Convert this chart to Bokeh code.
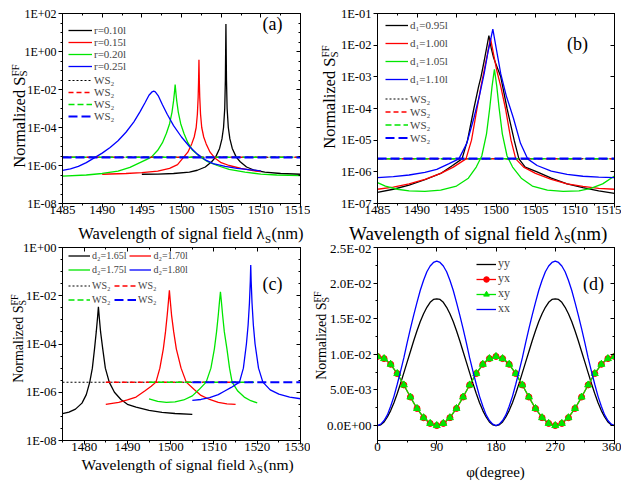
from math import pi
import numpy as np
from bokeh.plotting import figure
from bokeh.models import (Range1d, LogAxis, LinearAxis, FixedTicker, CustomJSTickFormatter,
                          Label, Legend, LegendItem, GridBox)
from bokeh.embed import file_html
from bokeh.resources import INLINE

FONT = "Liberation Serif, Times New Roman, serif"
BLACK, RED, GREEN, BLUE = "#000000", "#ff0000", "#00e600", "#0000ff"

# ---------------- data; y of panels a-c given as log10 ----------------
# (a) radius sweep
a_x_r010 = [1495, 1497, 1499, 1501, 1502, 1503, 1503.8, 1504.3, 1504.8, 1505.1, 1505.3, 1505.45, 1505.53,
            1505.6, 1505.67, 1505.75, 1505.9, 1506.1, 1506.4, 1506.9, 1507.4, 1508.2, 1509.2, 1510.5, 1512.5, 1515]
a_lg_r010 = [-6.46, -6.45, -6.42, -6.35, -6.25, -6.08, -5.8, -5.56, -5.1, -4.6, -4.0, -3.0, -1.5,
             1.45, -1.5, -3.0, -4.0, -4.6, -5.1, -5.56, -5.8, -6.08, -6.25, -6.35, -6.42, -6.46]
a_x_r015 = [1490, 1493, 1495, 1497, 1498.5, 1499.5, 1500.2, 1500.8, 1501.3, 1501.6, 1501.85, 1502.0, 1502.1,
            1502.15, 1502.2, 1502.25, 1502.3, 1502.4, 1502.55, 1502.8, 1503.1, 1503.6, 1504.2, 1505, 1506,
            1507.5, 1509, 1510]
a_lg_r015 = [-6.46, -6.42, -6.38, -6.3, -6.15, -5.95, -5.6, -5.3, -4.85, -4.5, -4.0, -3.3, -2.4,
             -1.6, -0.44, -1.6, -2.4, -3.3, -4.0, -4.5, -4.85, -5.3, -5.6, -5.85, -6.0,
             -6.15, -6.27, -6.32]
a_x_r020 = [1485, 1488, 1490, 1492, 1493.5, 1494.5, 1495.5, 1496.2, 1497, 1497.6, 1498.1, 1498.5, 1498.8,
            1499.0, 1499.1, 1499.2, 1499.3, 1499.4, 1499.6, 1499.9, 1500.3, 1500.8, 1501.4, 1502.4, 1503.3,
            1504.5, 1506, 1508, 1510, 1512, 1515]
a_lg_r020 = [-6.56, -6.5, -6.42, -6.3, -6.1, -5.9, -5.7, -5.56, -5.2, -4.8, -4.3, -3.8, -3.2,
             -2.6, -2.2, -1.74, -2.2, -2.6, -3.2, -3.8, -4.3, -4.8, -5.2, -5.56, -5.8,
             -6.0, -6.2, -6.35, -6.45, -6.5, -6.53]
a_x_r025 = [1485, 1486, 1487, 1488, 1489, 1490, 1491, 1492, 1493, 1494, 1494.8, 1495.4, 1495.9, 1496.3,
            1496.5, 1496.7, 1497.1, 1497.6, 1498.2, 1499, 1500, 1501, 1502, 1503, 1504, 1505.5, 1507,
            1508.5, 1510]
a_lg_r025 = [-6.26, -6.18, -6.05, -5.85, -5.6, -5.35, -5.05, -4.7, -4.25, -3.7, -3.15, -2.7, -2.3, -2.12,
             -2.09, -2.12, -2.35, -2.8, -3.3, -3.9, -4.5, -5.0, -5.4, -5.7, -5.9, -6.05, -6.15,
             -6.22, -6.28]
a_labels = ["r=0.10l", "r=0.15l", "r=0.20l", "r=0.25l"]
a_ws2 = 2.7e-6
a_ws2_x = [1485, 1515]

# (b) d1 sweep
b_x_d095 = [1485, 1487, 1489, 1491, 1493, 1494.5, 1495.7, 1496.4, 1497.2, 1497.8, 1498.1, 1498.5, 1498.8,
            1499.1, 1499.4, 1499.7, 1500.0, 1500.6, 1501.4, 1502.3, 1502.9, 1503.7, 1505.2, 1507, 1509,
            1511, 1513, 1515]
b_lg_d095 = [-6.65, -6.55, -6.42, -6.25, -6.05, -5.8, -5.59, -5.0, -4.0, -3.3, -3.0, -2.5, -2.1,
             -1.7, -2.1, -2.4, -2.6, -3.0, -4.0, -5.0, -5.59, -5.85, -6.0, -6.2, -6.38,
             -6.5, -6.6, -6.68]
b_x_d100 = [1485, 1487, 1489, 1491, 1493, 1494.6, 1496.2, 1496.9, 1497.6, 1498.1, 1498.5, 1498.9, 1499.3,
            1499.7, 1500.1, 1500.6, 1501.2, 1501.9, 1502.5, 1503.5, 1505, 1507, 1509, 1511, 1513, 1515]
b_lg_d100 = [-6.55, -6.48, -6.38, -6.24, -6.05, -5.85, -5.59, -5.0, -4.0, -3.3, -2.8, -2.3, -1.78,
             -2.3, -2.8, -3.3, -4.0, -5.0, -5.59, -5.85, -6.05, -6.24, -6.38, -6.46, -6.52, -6.55]
b_x_d105 = [1485, 1486, 1487.5, 1489, 1491, 1493, 1495, 1496.5, 1497.5, 1498.2, 1498.8, 1499.2, 1499.5,
            1499.8, 1500.1, 1500.4, 1500.8, 1501.4, 1502.1, 1503.2, 1504.6, 1506.5, 1508.5, 1510.5, 1512,
            1513.5, 1515]
b_lg_d105 = [-6.34, -6.45, -6.55, -6.6, -6.62, -6.58, -6.45, -6.2, -5.85, -5.5, -4.8, -4.0, -3.3,
             -2.76, -3.3, -4.0, -4.8, -5.5, -5.85, -6.2, -6.45, -6.58, -6.62, -6.6, -6.52,
             -6.38, -6.13]
b_x_d110 = [1485, 1487, 1489, 1491, 1492.5, 1494, 1495.3, 1496.3, 1497.2, 1497.9, 1498.5, 1499.0, 1499.6,
            1500.1, 1500.6, 1501.3, 1502.2, 1503.1, 1504.0, 1505.2, 1507, 1509, 1511, 1513, 1515]
b_lg_d110 = [-6.18, -6.15, -6.1, -6.02, -5.92, -5.75, -5.59, -5.1, -4.3, -3.6, -2.9, -2.2, -1.49,
             -2.2, -2.9, -3.6, -4.3, -5.1, -5.59, -5.8, -5.98, -6.08, -6.14, -6.17, -6.18]
b_labels = ["d\u2081=0.95l", "d\u2081=1.00l", "d\u2081=1.05l", "d\u2081=1.10l"]
b_ws2 = 2.6e-6
b_ws2_x = [1485, 1515]

# (c) d2 sweep
c_x_d165 = [1475, 1476.5, 1478, 1479.5, 1480.5, 1481.3, 1481.9, 1482.4, 1482.8, 1483.1, 1483.3, 1483.5,
            1483.8, 1484.3, 1484.9, 1485.8, 1487, 1488.5, 1490, 1492, 1495, 1498, 1501, 1505]
c_lg_d165 = [-6.89, -6.82, -6.7, -6.45, -6.1, -5.58, -5.0, -4.2, -3.5, -2.9, -2.46, -2.9,
             -3.5, -4.2, -5.0, -5.58, -6.0, -6.3, -6.5, -6.62, -6.75, -6.83, -6.88, -6.92]
c_x_d170 = [1485, 1488, 1490, 1492, 1494, 1495.5, 1496.6, 1497.5, 1498.3, 1498.8, 1499.2, 1499.5, 1499.7,
            1499.9, 1500.2, 1500.7, 1501.3, 1502.4, 1503.6, 1505.5, 1507, 1509, 1511, 1513, 1515]
c_lg_d170 = [-6.5, -6.42, -6.32, -6.2, -5.95, -5.75, -5.58, -5.0, -4.2, -3.5, -2.8, -2.2, -1.77,
             -2.2, -2.8, -3.5, -4.2, -5.0, -5.58, -5.9, -6.13, -6.3, -6.42, -6.48, -6.5]
c_x_d175 = [1495, 1497, 1499, 1501, 1503, 1505, 1506.5, 1508.2, 1509.3, 1510.1, 1510.6, 1511.0, 1511.3,
            1511.5, 1511.7, 1512.0, 1512.4, 1513.0, 1513.6, 1514.2, 1515.5, 1517, 1518.5, 1520]
c_lg_d175 = [-6.27, -6.38, -6.42, -6.4, -6.32, -6.15, -5.9, -5.58, -5.0, -4.2, -3.5, -2.8, -2.2,
             -1.84, -2.2, -2.8, -3.5, -4.2, -5.0, -5.58, -5.95, -6.2, -6.35, -6.44]
c_x_d180 = [1505, 1507, 1509, 1511, 1512.5, 1514, 1515.9, 1516.8, 1517.5, 1517.9, 1518.2, 1518.4, 1518.5,
            1518.6, 1518.8, 1519.1, 1519.5, 1520.3, 1521.3, 1523, 1525, 1527.5, 1530]
c_lg_d180 = [-6.34, -6.3, -6.22, -6.1, -5.95, -5.8, -5.58, -5.0, -4.0, -3.2, -2.3, -1.4, -0.73,
             -1.4, -2.3, -3.2, -4.0, -5.0, -5.58, -5.9, -6.08, -6.2, -6.27]
c_labels = ["d\u2082=1.65l", "d\u2082=1.70l", "d\u2082=1.75l", "d\u2082=1.80l"]
c_ws2 = 2.6e-6
c_ws2_x = [[1475, 1505], [1485, 1515], [1495, 1520], [1505, 1530]]

# (d) polarization angle
d_phi_line = [0, 5, 10, 15, 20, 25, 30, 35, 40, 45, 50, 55, 60, 65, 70, 75, 80, 85, 90,
              95, 100, 105, 110, 115, 120, 125, 130, 135, 140, 145, 150, 155, 160, 165, 170, 175, 180,
              185, 190, 195, 200, 205, 210, 215, 220, 225, 230, 235, 240, 245, 250, 255, 260, 265, 270,
              275, 280, 285, 290, 295, 300, 305, 310, 315, 320, 325, 330, 335, 340, 345, 350, 355, 360]
d_yy = [0,
        0.0001, 0.0005, 0.0012, 0.0021, 0.0032, 0.0045, 0.0059, 0.0074, 0.0089, 0.0104, 0.0119, 0.0133,
        0.0146, 0.0157, 0.0166, 0.0173, 0.0177, 0.0178,
        0.0177, 0.0173, 0.0166, 0.0157, 0.0146, 0.0133, 0.0119, 0.0104, 0.0089, 0.0074, 0.0059, 0.0045,
        0.0032, 0.0021, 0.0012, 0.0005, 0.0001, 0,
        0.0001, 0.0005, 0.0012, 0.0021, 0.0032, 0.0045, 0.0059, 0.0074, 0.0089, 0.0104, 0.0119, 0.0133,
        0.0146, 0.0157, 0.0166, 0.0173, 0.0177, 0.0178,
        0.0177, 0.0173, 0.0166, 0.0157, 0.0146, 0.0133, 0.0119, 0.0104, 0.0089, 0.0074, 0.0059, 0.0045,
        0.0032, 0.0021, 0.0012, 0.0005, 0.0001, 0]
d_xx = [0,
        0.0002, 0.0007, 0.0015, 0.0027, 0.0041, 0.0058, 0.0076, 0.0095, 0.0116, 0.0136, 0.0155, 0.0173,
        0.0190, 0.0204, 0.0216, 0.0224, 0.0229, 0.0231,
        0.0229, 0.0224, 0.0216, 0.0204, 0.0190, 0.0173, 0.0155, 0.0136, 0.0116, 0.0095, 0.0076, 0.0058,
        0.0041, 0.0027, 0.0015, 0.0007, 0.0002, 0,
        0.0002, 0.0007, 0.0015, 0.0027, 0.0041, 0.0058, 0.0076, 0.0095, 0.0116, 0.0136, 0.0155, 0.0173,
        0.0190, 0.0204, 0.0216, 0.0224, 0.0229, 0.0231,
        0.0229, 0.0224, 0.0216, 0.0204, 0.0190, 0.0173, 0.0155, 0.0136, 0.0116, 0.0095, 0.0076, 0.0058,
        0.0041, 0.0027, 0.0015, 0.0007, 0.0002, 0]
d_phi_mark = [0, 10, 20, 30, 40, 50, 60, 70, 80, 90, 100, 110, 120, 130, 140, 150, 160, 170, 180,
              190, 200, 210, 220, 230, 240, 250, 260, 270, 280, 290, 300, 310, 320, 330, 340, 350, 360]
d_yx = [0.0097, 0.0094, 0.0086, 0.0073, 0.0057, 0.0040, 0.0024, 0.0011, 0.0003, 0.0000,
        0.0003, 0.0011, 0.0024, 0.0040, 0.0057, 0.0073, 0.0086, 0.0094, 0.0097,
        0.0094, 0.0086, 0.0073, 0.0057, 0.0040, 0.0024, 0.0011, 0.0003, 0.0000,
        0.0003, 0.0011, 0.0024, 0.0040, 0.0057, 0.0073, 0.0086, 0.0094, 0.0097]
d_xy = [0.0097, 0.0094, 0.0086, 0.0073, 0.0057, 0.0040, 0.0024, 0.0011, 0.0003, 0.0000,
        0.0003, 0.0011, 0.0024, 0.0040, 0.0057, 0.0073, 0.0086, 0.0094, 0.0097,
        0.0094, 0.0086, 0.0073, 0.0057, 0.0040, 0.0024, 0.0011, 0.0003, 0.0000,
        0.0003, 0.0011, 0.0024, 0.0040, 0.0057, 0.0073, 0.0086, 0.0094, 0.0097]
d_labels = ["yy", "yx", "xy", "xx"]

WS2 = "WS\u2082"

# ---------------- helpers ----------------
LOGFMT = """
const e = Math.round(Math.log10(tick));
const a = Math.abs(e);
return '1E' + (e < 0 ? '-' : '+') + (a < 10 ? '0' : '') + a;
"""
EXPFMT = """
if (Math.abs(tick) < 1e-12) return '0.0E+00';
const e = Math.floor(Math.log10(Math.abs(tick)) + 1e-9);
const m = tick / Math.pow(10, e);
const a = Math.abs(e);
return m.toFixed(1) + 'E' + (e < 0 ? '-' : '+') + (a < 10 ? '0' : '') + a;
"""
PLAIN = "return String(tick);"
EMPTY = "return '';"


def base_fig(w, h, xr, yr, ylog, bl, br, bt, bb):
    p = figure(width=w, height=h, x_range=Range1d(*xr), y_range=Range1d(*yr),
               y_axis_type="log" if ylog else "linear", output_backend="svg",
               toolbar_location=None, min_border_left=bl, min_border_right=br,
               min_border_top=bt, min_border_bottom=bb)
    p.xgrid.visible = False
    p.ygrid.visible = False
    p.outline_line_color = "black"
    p.background_fill_color = None
    p.border_fill_color = None
    return p


def cfg_axis(ax, ticks, minor, code, size, out, inn, standoff):
    ax.ticker = FixedTicker(ticks=ticks, minor_ticks=minor)
    ax.formatter = CustomJSTickFormatter(code=code)
    ax.axis_label = None
    ax.axis_line_color = "black"
    ax.axis_line_width = 1
    ax.major_tick_line_color = "black"
    ax.minor_tick_line_color = "black"
    ax.major_tick_out = out
    ax.major_tick_in = inn
    ax.minor_tick_out = int(round(out * 0.6))
    ax.minor_tick_in = int(round(inn * 0.6))
    ax.major_label_text_font = FONT
    ax.major_label_text_font_size = size
    ax.major_label_text_color = "black"
    ax.major_label_standoff = standoff


def frame_axes(p, ylog, xt, xm, yt, ym, ycode, xsize, ysize):
    cfg_axis(p.xaxis[0], xt, xm, PLAIN, xsize, 4, 0, -2)
    cfg_axis(p.yaxis[0], yt, ym, ycode, ysize, 4, 0, 2)
    top = LinearAxis()
    cfg_axis(top, xt, xm, EMPTY, "0px", 0, 4, 0)
    p.add_layout(top, "above")
    right = LogAxis() if ylog else LinearAxis()
    cfg_axis(right, yt, ym, EMPTY, "0px", 0, 4, 0)
    p.add_layout(right, "right")


def legend(p, items, vx, vy, size, row_h, glyph_w, standoff=2, orientation="vertical", spacing=0):
    lg = Legend(items=items, location=(vx, vy), orientation=orientation,
                label_text_font=FONT, label_text_font_size=size,
                label_height=row_h, glyph_height=row_h, glyph_width=glyph_w,
                label_standoff=standoff, spacing=spacing, padding=0, margin=0,
                border_line_alpha=0, background_fill_alpha=0)
    p.add_layout(lg)


def plab(p, text, x, y, size):
    p.add_layout(Label(x=x, y=y, x_units="screen", y_units="screen", text=text, text_font=FONT,
                       text_font_size=size, text_align="center", text_baseline="middle",
                       text_color="black"))


COLORS = [BLACK, RED, GREEN, BLUE]
DASHES = ["2 2", "5 3", "6 3", "9 4"]
DWIDTH = [1.0, 1.5, 1.5, 2.2]

lin_ticks_ab = [1485, 1490, 1495, 1500, 1505, 1510, 1515]
lin_minor_ab = [1487.5, 1492.5, 1497.5, 1502.5, 1507.5, 1512.5]

# ---------------- panel (a) ----------------
pa = base_fig(310, 240, (1485, 1515), (1e-8, 1e2), True, 62, 7, 13, 37)
frame_axes(pa, True, lin_ticks_ab, lin_minor_ab,
           [1e-8, 1e-6, 1e-4, 1e-2, 1, 1e2],
           [10 ** (k / 2) for k in range(-16, 5) if k % 4 != 0], LOGFMT, "13px", "12px")
a_sol, a_dash = [], []
for xs, lg, c in zip([a_x_r010, a_x_r015, a_x_r020, a_x_r025],
                     [a_lg_r010, a_lg_r015, a_lg_r020, a_lg_r025], COLORS):
    a_sol.append(pa.line(xs, np.power(10.0, lg), line_color=c, line_width=1.3))
for c, d, w in zip(COLORS, DASHES, DWIDTH):
    a_dash.append(pa.line(a_ws2_x, [a_ws2, a_ws2], line_color=c, line_dash=d, line_width=w))
legend(pa, [LegendItem(label=t, renderers=[r]) for t, r in zip(a_labels, a_sol)], 6, 131, "11px", 12, 24)
legend(pa, [LegendItem(label=WS2, renderers=[r]) for r in a_dash], 6, 81, "11px", 12, 24)
plab(pa, "(a)", 210, 180, "18px")

# ---------------- panel (b) ----------------
pb = base_fig(311, 240, (1485, 1515), (1e-7, 1e-1), True, 67, 7, 13, 37)
frame_axes(pb, True, lin_ticks_ab, lin_minor_ab,
           [1e-7, 1e-6, 1e-5, 1e-4, 1e-3, 1e-2, 1e-1], [], LOGFMT, "13px", "12.5px")
b_sol, b_dash = [], []
for xs, lg, c in zip([b_x_d095, b_x_d100, b_x_d105, b_x_d110],
                     [b_lg_d095, b_lg_d100, b_lg_d105, b_lg_d110], COLORS):
    b_sol.append(pb.line(xs, np.power(10.0, lg), line_color=c, line_width=1.3))
for c, d, w in zip(COLORS, DASHES, DWIDTH):
    b_dash.append(pb.line(b_ws2_x, [b_ws2, b_ws2], line_color=c, line_dash=d, line_width=w))
legend(pb, [LegendItem(label=t, renderers=[r]) for t, r in zip(b_labels, b_sol)], 8, 115, "11px", 18, 23)
legend(pb, [LegendItem(label=WS2, renderers=[r]) for r in b_dash], 8, 59, "11px", 13, 23)
plab(pb, "(b)", 200, 160, "18px")

# ---------------- panel (c) ----------------
pc = base_fig(310, 241, (1475, 1530), (1e-8, 1), True, 62, 10, 7, 41)
frame_axes(pc, True, [1480, 1490, 1500, 1510, 1520, 1530], [1475, 1485, 1495, 1505, 1515, 1525],
           [1e-8, 1e-6, 1e-4, 1e-2, 1],
           [10 ** (k / 2) for k in range(-16, 1) if k % 4 != 0], LOGFMT, "13px", "12.5px")
c_sol, c_dash = [], []
for xs, lg, c in zip([c_x_d165, c_x_d170, c_x_d175, c_x_d180],
                     [c_lg_d165, c_lg_d170, c_lg_d175, c_lg_d180], COLORS):
    c_sol.append(pc.line(xs, np.power(10.0, lg), line_color=c, line_width=1.3))
for xs, c, d, w in zip(c_ws2_x, COLORS, DASHES, DWIDTH):
    c_dash.append(pc.line(xs, [c_ws2, c_ws2], line_color=c, line_dash=d, line_width=w))
legend(pc, [LegendItem(label=c_labels[0], renderers=[c_sol[0]]),
            LegendItem(label=c_labels[1], renderers=[c_sol[1]])], 6, 178, "10px", 13, 22,
       orientation="horizontal", spacing=3)
legend(pc, [LegendItem(label=c_labels[2], renderers=[c_sol[2]]),
            LegendItem(label=c_labels[3], renderers=[c_sol[3]])], 6, 164, "10px", 13, 22,
       orientation="horizontal", spacing=3)
legend(pc, [LegendItem(label=WS2, renderers=[c_dash[0]]),
            LegendItem(label=WS2, renderers=[c_dash[1]])], 6, 148, "10px", 13, 22,
       orientation="horizontal", spacing=2)
legend(pc, [LegendItem(label=WS2, renderers=[c_dash[2]]),
            LegendItem(label=WS2, renderers=[c_dash[3]])], 6, 134, "10px", 13, 22,
       orientation="horizontal", spacing=2)
plab(pc, "(c)", 210, 157, "18px")

# ---------------- panel (d) ----------------
pd_ = base_fig(311, 241, (0, 360), (-0.0021, 0.025), False, 66, 7, 7, 41)
frame_axes(pd_, False, [0, 90, 180, 270, 360], [45, 135, 225, 315],
           [0, 0.005, 0.01, 0.015, 0.02, 0.025], [0.0025, 0.0075, 0.0125, 0.0175, 0.0225],
           EXPFMT, "13px", "13px")
r_yy = pd_.line(d_phi_line, d_yy, line_color=BLACK, line_width=1.3)
r_yx = pd_.line(d_phi_mark, d_yx, line_color=RED, line_width=1.3)
r_xy = pd_.line(d_phi_mark, d_xy, line_color=GREEN, line_width=1.3)
m_yx = pd_.scatter(d_phi_mark, d_yx, marker="circle", size=6, fill_color=RED, line_color=RED)
m_xy = pd_.scatter(d_phi_mark, d_xy, marker="triangle", size=7, fill_color=GREEN, line_color=GREEN)
r_xx = pd_.line(d_phi_line, d_xx, line_color=BLUE, line_width=1.3)
legend(pd_, [LegendItem(label=d_labels[0], renderers=[r_yy]),
             LegendItem(label=d_labels[1], renderers=[r_yx, m_yx]),
             LegendItem(label=d_labels[2], renderers=[r_xy, m_xy]),
             LegendItem(label=d_labels[3], renderers=[r_xx])], 99, 124, "12px", 14, 20)
plab(pd_, "(d)", 216, 157, "18px")

# ---------------- background canvas carrying the axis titles (picture pixel coordinates) ----------------
bg = figure(width=621, height=481, x_range=Range1d(0, 621), y_range=Range1d(481, 0),
            output_backend="svg", toolbar_location=None, min_border=0,
            min_border_left=0, min_border_right=0, min_border_top=0, min_border_bottom=0,
            x_axis_location=None, y_axis_location=None)
bg.xgrid.visible = False
bg.ygrid.visible = False
bg.outline_line_color = None
bg.background_fill_color = "white"
bg.border_fill_color = "white"


def T(text, px, py, size, align="left", baseline="alphabetic", angle=0.0):
    bg.add_layout(Label(x=px, y=py, text=text, text_font=FONT, text_font_size=size,
                        text_align=align, text_baseline=baseline, angle=angle, text_color="black"))


def xtitle(xend, base, size, subsize):
    T("Wavelength of signal field \u03bb", xend, base, size, align="right")
    T("S", xend + 0.5, base + 5, subsize)
    T("(nm)", xend + 7, base, size)


def ytitle(xc, yend, size, subsize, dsup, dsub):
    T("Normalized S", xc, yend, size, align="right", baseline="middle", angle=pi / 2)
    T("FF", xc - dsup, yend, subsize, baseline="middle", angle=pi / 2)
    T("S", xc + dsub, yend, subsize, baseline="middle", angle=pi / 2)


xtitle(264, 233, "16.5px", "11px")
ytitle(18.5, 76, "16.5px", "11px", 4.5, 4)
xtitle(563, 233, "19px", "12px")
ytitle(329, 57, "16.5px", "11px", 4.5, 4)
xtitle(256, 464, "15.5px", "10.5px")
ytitle(18, 305, "14px", "10px", 4, 3.5)
T("\u03c6(degree)", 495, 471, "15px", align="center")
ytitle(321, 302, "14px", "10px", 4, 3.5)

# the background spans its own outer grid lines, so its frame is not aligned with the panels
layout = GridBox(children=[(bg, 0, 0, 4, 4), (pa, 1, 1), (pb, 1, 2), (pc, 2, 1), (pd_, 2, 2)])
open("out.html", "w").write(file_html(layout, INLINE))
